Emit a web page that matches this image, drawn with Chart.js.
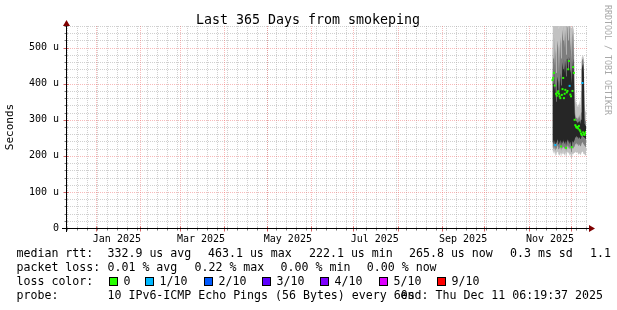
<!DOCTYPE html>
<html>
<head>
<meta charset="utf-8">
<script src="https://cdn.jsdelivr.net/npm/chart.js@4.4.1/dist/chart.umd.min.js"></script>
<style>
html, body { margin: 0; padding: 0; background: #fff; }
canvas { display: block; }
</style>
</head>
<body>
<canvas id="graficoSmoke" width="617" height="310"></canvas>
<script>
// days since graph start (Wed Dec 11 2024 06:19:37), one sample every 12 h
var tempos = [341.5, 342, 342.5, 343, 343.5, 344, 344.5, 345, 345.5, 346, 346.5, 347,
    347.5, 348, 348.5, 349, 349.5, 350, 350.5, 351, 351.5, 352, 352.5, 353,
    353.5, 354, 354.5, 355, 355.5, 356, 356.5, 357, 357.5, 358, 358.5, 359,
    359.5, 360, 360.5, 361, 361.5, 362, 362.5, 363, 363.5, 364, 364.5, 365];

// median rtt in us
var mediana = [410, 416, 430, 395, 230, 372, 367, 375, 379, 372, 365, 360,
    226, 369, 385, 416, 360, 372, 383, 222, 376, 380, 440, 463,
    394, 370, 365, 224, 380, 446, 430, 300, 285, 281, 278, 280,
    276, 283, 272, 268, 262, 258, 402, 265, 260, 258, 263, 266];

// lost pings out of 10
var perda = [0, 0, 0, 0, 1, 0, 0, 0, 0, 0, 0, 0,
    0, 0, 0, 0, 0, 0, 0, 0, 0, 0, 0, 0,
    1, 0, 0, 0, 0, 0, 0, 0, 0, 0, 0, 0,
    0, 0, 0, 0, 0, 0, 1, 0, 0, 0, 0, 0];

// smoke: ping spread in us
var fumacaMax = [580, 560, 575, 570, 585, 580, 560, 575, 585, 550, 580, 560,
    575, 585, 555, 580, 570, 585, 560, 565, 585, 575, 590, 590,
    580, 555, 560, 550, 570, 560, 520, 430, 360, 345, 350, 335,
    345, 335, 355, 330, 380, 472, 476, 478, 470, 340, 325, 320];
var fumacaMedioAlto = [530, 470, 540, 450, 500, 430, 480, 520, 500, 430, 490, 530,
    470, 510, 550, 520, 560, 500, 550, 480, 560, 555, 520, 570,
    550, 490, 530, 460, 530, 555, 480, 350, 315, 305, 310, 300,
    310, 302, 315, 296, 320, 462, 468, 470, 450, 305, 298, 295];
var fumacaEscuraAlto = [445, 400, 450, 380, 400, 350, 390, 420, 405, 360, 390, 430,
    395, 410, 460, 440, 470, 430, 465, 420, 468, 470, 440, 475,
    465, 430, 440, 400, 445, 470, 420, 320, 300, 295, 298, 290,
    295, 292, 298, 288, 300, 440, 450, 455, 430, 290, 285, 282];
var fumacaEscuraBaixo = [240, 232, 244, 236, 228, 242, 236, 246, 240, 232, 238, 244,
    228, 240, 234, 246, 240, 232, 242, 228, 238, 246, 236, 244,
    232, 240, 230, 226, 242, 236, 240, 244, 252, 250, 256, 250,
    254, 248, 252, 246, 248, 255, 258, 256, 252, 250, 248, 246];
var fumacaMedioBaixo = [225, 218, 228, 220, 214, 226, 220, 230, 224, 218, 222, 228,
    214, 224, 220, 230, 224, 218, 226, 212, 222, 230, 220, 228,
    218, 224, 214, 210, 226, 220, 224, 226, 234, 230, 236, 230,
    234, 228, 232, 226, 228, 235, 238, 236, 232, 228, 226, 224];
var fumacaMin = [215, 206, 214, 208, 198, 212, 206, 212, 210, 204, 200, 210,
    196, 208, 204, 214, 206, 200, 210, 194, 205, 212, 206, 210,
    200, 206, 196, 192, 206, 204, 208, 208, 212, 208, 210, 210,
    206, 204, 208, 202, 205, 210, 212, 210, 206, 204, 202, 200];

var rotulosX = ['Jan 2025', 'Mar 2025', 'May 2025', 'Jul 2025', 'Sep 2025', 'Nov 2025'];
var mesesRotulo = [0, 2, 4, 6, 8, 10];

var coresPerda = ['#26ff00', '#00b8ff', '#0059ff', '#5e00ff', '#7e00ff', '#dd00ff', '#ff0000'];
var rotulosPerda = ['0', '1/10', '2/10', '3/10', '4/10', '5/10', '9/10'];

var estatRtt = ['332.9 us avg', '463.1 us max', '222.1 us min', '265.8 us now', '0.3 ms sd', '1.1'];
var estatPerda = ['0.01 % avg', '0.22 % max', '0.00 % min', '0.00 % now'];

var DIA = 86400000;
var inicio = Date.UTC(2024, 11, 11, 6, 19, 37);
function diaDe(ano, mes, d) {
    return (Date.UTC(ano, mes, d) - inicio) / DIA;
}

var corGrade = 'rgba(170,170,170,0.55)';
var corGradeMaior = 'rgba(240,90,90,0.42)';
var vazio = 'rgba(0,0,0,0)';

function pontos(arr) {
    return tempos.map(function (t, i) { return { x: t, y: arr[i] }; });
}

function camada(baixo, alto, cor, ordem) {
    return [
        { data: pontos(baixo), borderWidth: 0, pointRadius: 0, fill: false, order: ordem },
        { data: pontos(alto), borderWidth: 0, pointRadius: 0, fill: '-1', backgroundColor: cor, order: ordem }
    ];
}

var datasets = [].concat(
    camada(fumacaMin, fumacaMax, '#c2c2c2', 3),
    camada(fumacaMedioBaixo, fumacaMedioAlto, '#7e7e7e', 2),
    camada(fumacaEscuraBaixo, fumacaEscuraAlto, '#262626', 1),
    [{
        data: pontos(mediana),
        showLine: false,
        pointStyle: 'rect',
        pointRadius: 1.4,
        pointBorderWidth: 0,
        pointBackgroundColor: function (c) { return coresPerda[perda[c.dataIndex]] || coresPerda[0]; },
        order: 0
    }]
);

// grid lines: weekly (thursday) minor, monthly major, every 20 u / 100 u
var plugGrade = {
    id: 'grade',
    beforeDatasetsDraw: function (chart) {
        var ctx = chart.ctx;
        var a = chart.chartArea;
        var sx = chart.scales.x, sy = chart.scales.y;
        var fim = inicio + 365 * DIA;
        ctx.save();
        ctx.lineWidth = 1;
        ctx.setLineDash([1, 1]);

        function vertical(t, cor) {
            var x = Math.round(sx.getPixelForValue(t)) + 0.5;
            ctx.strokeStyle = cor;
            ctx.beginPath();
            ctx.moveTo(x, a.top);
            ctx.lineTo(x, a.bottom);
            ctx.stroke();
        }
        function horizontal(v, cor) {
            var y = Math.round(sy.getPixelForValue(v)) + 0.5;
            ctx.strokeStyle = cor;
            ctx.beginPath();
            ctx.moveTo(a.left, y);
            ctx.lineTo(a.right + 2, y);
            ctx.stroke();
        }
        var meses = [];
        for (var m = 0; m < 12; m++) meses.push(diaDe(2025, m, 1));
        var semanas = [];
        for (var t = Date.UTC(2024, 11, 12); t <= fim; t += 7 * DIA) semanas.push((t - inicio) / DIA);

        semanas.forEach(function (d) { vertical(d, corGrade); });
        for (var v = 20; v <= 560; v += 20) {
            if (v % 100 !== 0) horizontal(v, corGrade);
        }
        meses.forEach(function (d) { vertical(d, corGradeMaior); });
        for (v = 100; v <= 500; v += 100) horizontal(v, corGradeMaior);

        // small tick marks on the axes
        ctx.setLineDash([]);
        var y0 = Math.round(sy.getPixelForValue(0)) + 0.5;
        var x0 = Math.round(a.left) + 0.5;
        semanas.forEach(function (d) {
            var x = Math.round(sx.getPixelForValue(d)) + 0.5;
            ctx.strokeStyle = 'rgba(90,90,90,0.8)';
            ctx.beginPath(); ctx.moveTo(x, y0 - 1); ctx.lineTo(x, y0 + 2); ctx.stroke();
        });
        meses.forEach(function (d) {
            var x = Math.round(sx.getPixelForValue(d)) + 0.5;
            ctx.strokeStyle = 'rgba(200,60,60,0.8)';
            ctx.beginPath(); ctx.moveTo(x, y0 - 2); ctx.lineTo(x, y0 + 3); ctx.stroke();
        });
        for (v = 20; v <= 560; v += 20) {
            var y = Math.round(sy.getPixelForValue(v)) + 0.5;
            var maior = v % 100 === 0;
            ctx.strokeStyle = maior ? 'rgba(200,60,60,0.8)' : 'rgba(90,90,90,0.8)';
            ctx.beginPath(); ctx.moveTo(x0 - (maior ? 3 : 2), y); ctx.lineTo(x0 + (maior ? 2 : 1), y); ctx.stroke();
        }
        ctx.restore();
    }
};

var plugTextos = {
    id: 'textos',
    afterDraw: function (chart) {
        var ctx = chart.ctx;
        var area = chart.chartArea;
        var y0 = Math.round(chart.scales.y.getPixelForValue(0)) + 0.5;
        var x0 = Math.round(area.left) + 0.5;
        ctx.save();

        // axis lines extended + arrows
        ctx.strokeStyle = '#000';
        ctx.lineWidth = 1;
        ctx.beginPath();
        ctx.moveTo(62, y0); ctx.lineTo(590, y0);
        ctx.moveTo(x0, 232); ctx.lineTo(x0, 25);
        ctx.stroke();
        ctx.fillStyle = '#7f0000';
        ctx.beginPath();
        ctx.moveTo(589, y0 - 3.5); ctx.lineTo(595, y0); ctx.lineTo(589, y0 + 3.5);
        ctx.closePath(); ctx.fill();
        ctx.beginPath();
        ctx.moveTo(x0 - 3.5, 26); ctx.lineTo(x0, 20); ctx.lineTo(x0 + 3.5, 26);
        ctx.closePath(); ctx.fill();

        ctx.fillStyle = '#000';
        // title
        ctx.font = '13.3px "DejaVu Sans Mono"';
        ctx.textAlign = 'center';
        ctx.textBaseline = 'alphabetic';
        ctx.fillText('Last 365 Days from smokeping', 308, 24);

        // y axis title
        ctx.save();
        ctx.font = '11px "DejaVu Sans Mono"';
        ctx.translate(10.5, (area.top + area.bottom) / 2);
        ctx.rotate(-Math.PI / 2);
        ctx.textBaseline = 'middle';
        ctx.fillText('Seconds', 0, 0);
        ctx.restore();

        // watermark
        ctx.save();
        ctx.fillStyle = '#a8a8a8';
        ctx.font = '8.3px "DejaVu Sans Mono"';
        ctx.translate(605, 5);
        ctx.rotate(Math.PI / 2);
        ctx.textAlign = 'left';
        ctx.textBaseline = 'alphabetic';
        ctx.fillText('RRDTOOL / TOBI OETIKER', 0, 0);
        ctx.restore();

        // legend
        ctx.font = '11.6px "DejaVu Sans Mono"';
        ctx.textAlign = 'left';
        ctx.textBaseline = 'middle';
        var xl = 16.5, xv = 107.5;
        ctx.fillText('median rtt:', xl, 254);
        var xsRtt = [107.5, 208, 309, 409, 510, 590];
        estatRtt.forEach(function (s, i) { ctx.fillText(s, xsRtt[i], 254); });
        ctx.fillText('packet loss:', xl, 268);
        var xsPerda = [107.5, 194.5, 280.6, 366.8];
        estatPerda.forEach(function (s, i) { ctx.fillText(s, xsPerda[i], 268); });
        ctx.fillText('loss color:', xl, 282);
        var xsCaixa = [109, 145, 204, 262, 320, 379, 437];
        rotulosPerda.forEach(function (s, i) {
            ctx.fillStyle = coresPerda[i];
            ctx.fillRect(xsCaixa[i] + 0.5, 277.5, 8, 8);
            ctx.strokeStyle = '#000';
            ctx.strokeRect(xsCaixa[i] + 0.5, 277.5, 8, 8);
            ctx.fillStyle = '#000';
            ctx.fillText(s, xsCaixa[i] + 14.5, 282);
        });
        ctx.fillText('probe:', xl, 296);
        ctx.fillText('10 IPv6-ICMP Echo Pings (56 Bytes) every 60s', xv, 296);
        ctx.textAlign = 'right';
        ctx.fillText('end: Thu Dec 11 06:19:37 2025', 603, 296);
        ctx.restore();
    }
};

var semGrade = { display: true, drawOnChartArea: false, drawTicks: true, tickLength: 3, color: vazio, tickColor: vazio };

var ctx = document.getElementById('graficoSmoke');
var grafico = new Chart(ctx, {
    type: 'line',
    data: { datasets: datasets },
    plugins: [plugGrade, plugTextos],
    options: {
        responsive: false,
        animation: false,
        devicePixelRatio: 1,
        layout: { padding: { top: 26, right: 31, bottom: 0, left: 0 } },
        plugins: { legend: { display: false }, tooltip: { enabled: false }, title: { display: false } },
        scales: {
            x: {
                type: 'linear',
                min: 0,
                max: 365,
                afterFit: function (s) { s.height = 82; },
                afterBuildTicks: function (s) {
                    s.ticks = mesesRotulo.map(function (m, i) {
                        return { value: diaDe(2025, m, 1) + 15, rotulo: rotulosX[i] };
                    });
                },
                grid: semGrade,
                border: { display: true, color: '#000', width: 1 },
                ticks: {
                    autoSkip: false,
                    maxRotation: 0,
                    minRotation: 0,
                    padding: 2,
                    color: '#000',
                    font: { family: 'DejaVu Sans Mono', size: 10 },
                    callback: function (v, i, ticks) { return ticks[i].rotulo || ''; }
                }
            },
            y: {
                min: 0,
                max: 560,
                afterFit: function (s) { s.width = 66; },
                afterBuildTicks: function (s) {
                    var lista = [];
                    for (var v = 0; v <= 500; v += 100) lista.push({ value: v });
                    s.ticks = lista;
                },
                grid: semGrade,
                border: { display: true, color: '#000', width: 1 },
                ticks: {
                    autoSkip: false,
                    padding: 4,
                    color: '#000',
                    font: { family: 'DejaVu Sans Mono', size: 10 },
                    callback: function (v) { return v === 0 ? '0' : v + ' u'; }
                }
            }
        }
    }
});
</script>
</body>
</html>
